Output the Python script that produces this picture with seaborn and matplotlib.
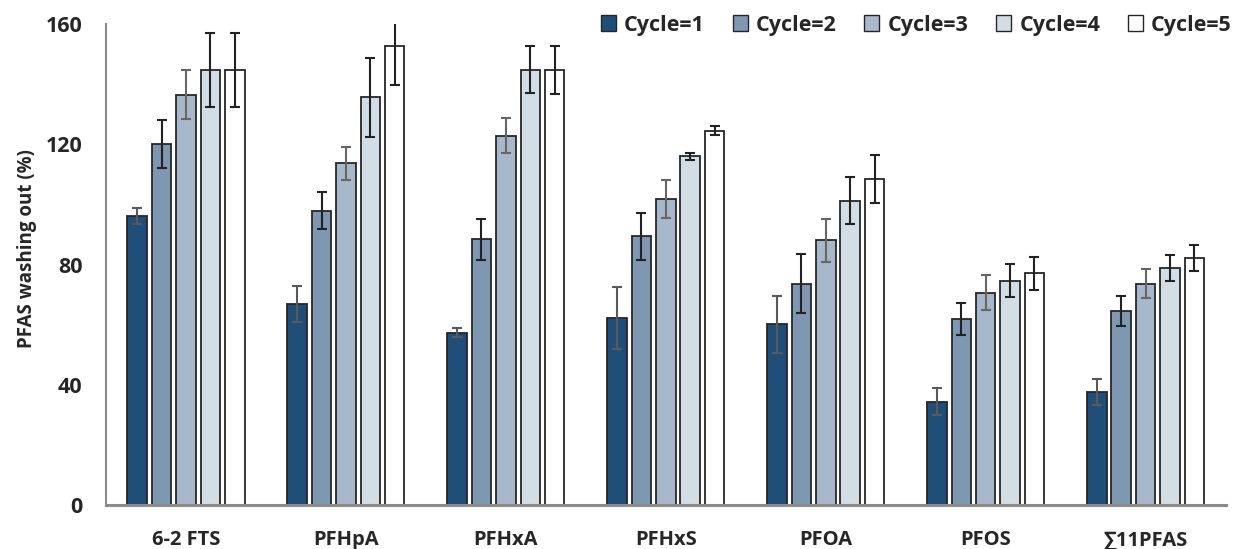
import numpy as np
import pandas as pd
import seaborn as sns
import matplotlib.pyplot as plt
from matplotlib.patches import Patch

# values
compounds = ['6-2 FTS', 'PFHpA', 'PFHxA', 'PFHxS', 'PFOA', 'PFOS', '∑11PFAS']
cycles = ['Cycle=1', 'Cycle=2', 'Cycle=3', 'Cycle=4', 'Cycle=5']

cycle1 = [96.1, 67.0, 57.4, 62.3, 60.1, 34.4, 37.6]
cycle2 = [120.1, 98.0, 88.5, 89.4, 73.7, 61.9, 64.6]
cycle3 = [136.5, 113.7, 122.9, 101.8, 88.1, 70.6, 73.7]
cycle4 = [144.8, 135.6, 144.8, 116.0, 101.2, 74.7, 78.9]
cycle5 = [144.8, 152.6, 144.8, 124.6, 108.6, 77.1, 82.1]

err1 = [2.7, 6.0, 1.6, 10.4, 9.5, 4.4, 4.4]
err2 = [8.0, 6.0, 6.8, 7.8, 9.8, 5.3, 5.1]
err3 = [8.2, 5.4, 5.8, 6.2, 7.1, 5.8, 4.9]
err4 = [12.2, 13.0, 7.8, 1.1, 7.8, 5.5, 4.3]
err5 = [12.2, 13.0, 8.0, 1.5, 8.0, 5.5, 4.3]

colors = ['#1F4E79', '#7F97B1', '#A6B8CA', '#D3DDE6', '#FFFFFF']
err_colors = ['#595959', '#222222', '#666666', '#222222', '#222222']

vals = [cycle1, cycle2, cycle3, cycle4, cycle5]
errs = [err1, err2, err3, err4, err5]

rows = []
for c, v in zip(cycles, vals):
    for comp, y in zip(compounds, v):
        rows.append({'compound': comp, 'cycle': c, 'value': y})
df = pd.DataFrame(rows)

sns.set_style('white')
plt.rcParams['font.family'] = ['Open Sans', 'DejaVu Sans']
plt.rcParams['font.weight'] = 'bold'

fig = plt.figure(figsize=(12.33, 5.49), dpi=100)
ax = fig.add_axes([0.086, 0.08, 0.908, 0.876])

sns.barplot(data=df, x='compound', y='value', hue='cycle', order=compounds,
            hue_order=cycles, palette=colors, saturation=1, width=0.7625, gap=0.2,
            edgecolor='#262626', linewidth=1.3, errorbar=None, ax=ax,
            legend=False)

# error bars on the bar centres
bar_groups = list(ax.containers)
for i, cont in enumerate(bar_groups):
    xs = [p.get_x() + p.get_width() / 2 for p in cont.patches]
    ax.errorbar(xs, vals[i], yerr=errs[i], fmt='none', ecolor=err_colors[i],
                elinewidth=1.5, capsize=3.5, capthick=1.5, zorder=5)

ax.set_ylim(0, 160)
ax.set_xlim(-0.5, len(compounds) - 0.5)
ax.set_yticks([0, 40, 80, 120, 160])
ax.set_xlabel('')
ax.set_ylabel('PFAS washing out (%)', fontsize=13.5, fontweight='bold')
ax.yaxis.set_label_coords(-0.062, 0.534)
ax.tick_params(axis='y', labelsize=15.5, length=0, pad=17)
ax.tick_params(axis='x', labelsize=14.5, length=0, pad=18)
for lab in ax.get_xticklabels() + ax.get_yticklabels():
    lab.set_fontweight('bold')

for s in ['top', 'right']:
    ax.spines[s].set_visible(False)
ax.spines['left'].set_color('#8C8C8C')
ax.spines['left'].set_linewidth(1.5)
ax.spines['bottom'].set_color('#8C8C8C')
ax.spines['bottom'].set_linewidth(2.2)

handles = [Patch(facecolor=c, edgecolor='#262626', linewidth=1.0) for c in colors]
fig.legend(handles, cycles, ncol=5, loc='center right',
           bbox_to_anchor=(1232 / 1233, 1 - 25 / 549), bbox_transform=fig.transFigure,
           frameon=False, borderpad=0, borderaxespad=0,
           handlelength=0.7, handleheight=0.7, handletextpad=0.37,
           columnspacing=1.3, prop={'weight': 'bold', 'size': 15.5})

fig.savefig('out.png', dpi=100)
